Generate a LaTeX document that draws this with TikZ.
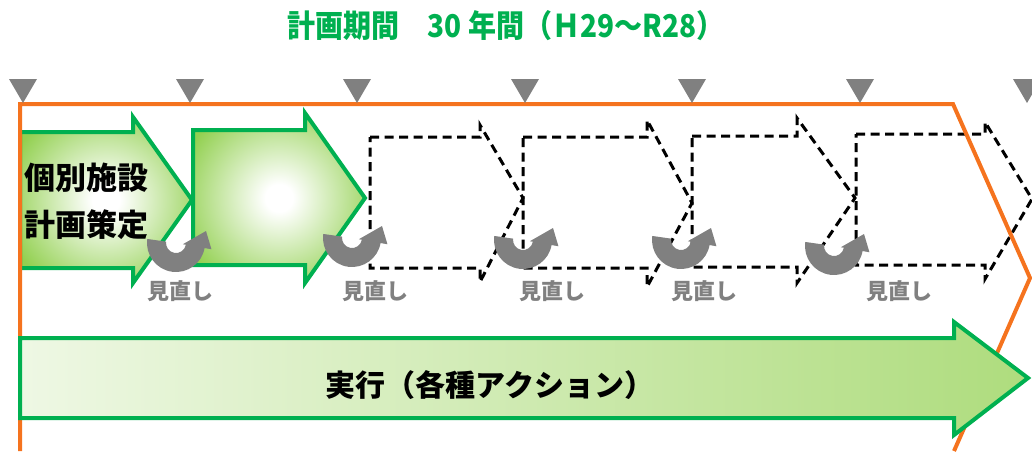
\documentclass[tikz,border=0pt]{standalone}
\usepackage{fontspec}
\newfontfamily\jp{Noto Sans CJK JP}
\newfontfamily\jpblack{Noto Sans CJK JP Black}
\usetikzlibrary{calc}
\definecolor{gline}{RGB}{0,176,80}
\definecolor{gfill}{RGB}{146,208,80}
\definecolor{orng}{RGB}{245,115,30}
\definecolor{gry}{RGB}{128,128,128}
\pgfdeclareradialshading{glow}{\pgfpoint{0bp}{0bp}}{color(0bp)=(white); color(4bp)=(white); color(30bp)=(gfill); color(50bp)=(gfill)}
\pgfdeclarehorizontalshading{fade}{100bp}{color(0bp)=(white); color(12bp)=(white); color(97bp)=(gfill); color(100bp)=(gfill)}
\tikzset{
  solidarrow/.style={shading=glow, draw=gline, line width=4pt, line join=miter},
  dasharrow/.style={draw=black, line width=3pt, dash pattern=on 9pt off 5.5pt},
  frame/.style={draw=orng, line width=4pt},
  turnlabel/.style={font=\jp\bfseries\fontsize{22}{22}\selectfont, text=gry, inner sep=0pt},
  turn/.pic={\fill[gry] (188:29) arc[start angle=188,end angle=10,radius=29] -- (10:36) -- (30,-12) -- (10:7) -- (10:10) arc[start angle=10,end angle=188,radius=10] -- cycle;}
}
\begin{document}
\begin{tikzpicture}[x=1pt,y=-1pt]
\useasboundingbox (0,0) rectangle (1032,451);
% title
\node[font=\jp\bfseries\fontsize{28}{28}\selectfont, text=gline, inner sep=0pt] (title) at (506,26) {\scalebox{1}[1.12]{計画期間　30 年間（Ｈ29～R28）}};
% solid arrows
\shadedraw[solidarrow] (20,132) -- (133,132) -- (133,117) -- (192,200) -- (133,283) -- (133,268) -- (20,268) -- cycle;
\shadedraw[solidarrow] (193,130) -- (305,130) -- (305,113) -- (365,198) -- (305,283) -- (305,265) -- (193,265) -- cycle;
\node[font=\jpblack\fontsize{31}{47}\selectfont, anchor=west, align=left, inner sep=0pt] (plan) at (24,201) {個別施設\\計画策定};
% dashed arrows
\draw[dasharrow] (370,137) -- (480,137) -- (480,125) -- (523,198) -- (480,282) -- (480,268) -- (370,268) -- cycle;
\draw[dasharrow] (523,137) -- (647,137) -- (647,120) -- (692,203) -- (647,287) -- (647,268) -- (523,268) -- cycle;
\draw[dasharrow] (692,136) -- (797,136) -- (797,118) -- (855,198) -- (797,283) -- (797,267) -- (692,267) -- cycle;
\draw[dasharrow] (856,134) -- (985,134) -- (985,122) -- (1032,199) -- (985,279) -- (985,265) -- (856,265) -- cycle;
% frame
\draw[frame] (20,451) -- (20,104) -- (953,104) -- (1030,278) -- (954,451);
\foreach \x in {23,190,357,525,692,860,1027}
  \fill[gry] (\x-14,79) -- (\x+14,79) -- (\x,103) -- cycle;
% review arrows
\pic at (176,243) {turn};
\pic at (352,238) {turn};
\pic at (523,240) {turn};
\pic at (681,240) {turn};
\pic at (834,246) {turn};
\node[turnlabel] (r1) at (180,291) {見直し};
\node[turnlabel] (r2) at (375,291) {見直し};
\node[turnlabel] (r3) at (552,291) {見直し};
\node[turnlabel] (r4) at (704,291) {見直し};
\node[turnlabel] (r5) at (899,291) {見直し};
% execution arrow
\shadedraw[shading=fade, draw=gline, line width=4pt] (20,338) -- (954,338) -- (954,322) -- (1028,378) -- (954,435) -- (954,418) -- (20,418) -- cycle;
\node[font=\jpblack\fontsize{30}{30}\selectfont, inner sep=0pt] (exec) at (490,385) {実行（各種アクション）};
\end{tikzpicture}
\end{document}
